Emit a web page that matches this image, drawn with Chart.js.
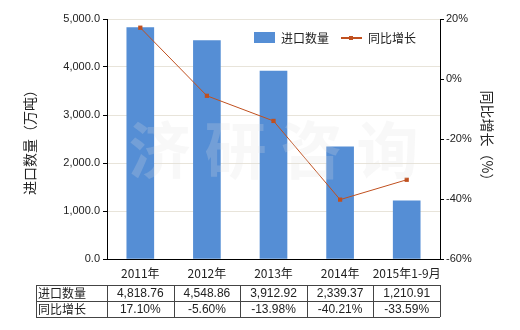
<!DOCTYPE html>
<html>
<head>
<meta charset="utf-8">
<script src="https://cdn.jsdelivr.net/npm/chart.js@4.4.0/dist/chart.umd.min.js"></script>
<style>
  html, body { margin: 0; padding: 0; background: #fff; }
  #wrap { width: 520px; height: 330px; position: relative; }
</style>
</head>
<body>
<div id="wrap"><canvas id="chart" width="520" height="330"></canvas></div>
<script>
const categories = ["2011年", "2012年", "2013年", "2014年", "2015年1-9月"];
const importQty = [4818.76, 4548.86, 3912.92, 2339.37, 1210.91];
const growth = [17.10, -5.60, -13.98, -40.21, -33.59];
const qtyLabels = ["4,818.76", "4,548.86", "3,912.92", "2,339.37", "1,210.91"];
const growthLabels = ["17.10%", "-5.60%", "-13.98%", "-40.21%", "-33.59%"];

const barColor = "#558ed5";
const lineColor = "#c0501f";
const cnFont = "'Noto Sans CJK SC', sans-serif";
const numFont = "'Liberation Sans', Arial, sans-serif";

// watermark, legend and the data table under the axis
const extras = {
  id: "extras",
  afterDatasetsDraw(chart) {
    const { ctx, chartArea } = chart;
    ctx.save();
    ctx.font = "bold 62px " + cnFont;
    ctx.fillStyle = "rgba(225,225,225,0.22)";
    ctx.textAlign = "center";
    ctx.textBaseline = "middle";
    ctx.fillText("济 研 咨 询", (chartArea.left + chartArea.right) / 2, 150);
    ctx.restore();
  },
  afterDraw(chart) {
    const { ctx } = chart;
    const x = chart.scales.x;
    ctx.save();

    // legend
    ctx.fillStyle = barColor;
    ctx.fillRect(254, 32, 21, 11);
    ctx.font = "12px " + cnFont;
    ctx.fillStyle = "#222";
    ctx.textBaseline = "middle";
    ctx.textAlign = "left";
    ctx.fillText("进口数量", 281, 38);
    ctx.strokeStyle = lineColor;
    ctx.lineWidth = 2;
    ctx.beginPath();
    ctx.moveTo(341, 38);
    ctx.lineTo(362, 38);
    ctx.stroke();
    ctx.fillStyle = lineColor;
    ctx.fillRect(349, 36, 4, 4);
    ctx.fillStyle = "#222";
    ctx.fillText("同比增长", 368, 38);

    // table
    const step = x.getPixelForValue(1) - x.getPixelForValue(0);
    const tLeft = 36, tTop = 285, rowH = 16;
    const colLeft = x.getPixelForValue(0) - step / 2;
    const tRight = x.getPixelForValue(categories.length - 1) + step / 2;
    ctx.strokeStyle = "#444";
    ctx.lineWidth = 1;
    ctx.beginPath();
    for (let r = 0; r <= 2; r++) {
      const y = Math.round(tTop + r * rowH) + 0.5;
      ctx.moveTo(tLeft, y);
      ctx.lineTo(tRight, y);
    }
    const vx = [tLeft, colLeft];
    for (let i = 0; i < categories.length; i++) vx.push(colLeft + step * (i + 1));
    vx.forEach(v => {
      const px = Math.round(v) + 0.5;
      ctx.moveTo(px, tTop);
      ctx.lineTo(px, tTop + 2 * rowH);
    });
    ctx.stroke();

    ctx.fillStyle = "#222";
    ctx.font = "12px " + cnFont;
    ctx.textAlign = "left";
    ctx.fillText("进口数量", tLeft + 2, tTop + rowH / 2);
    ctx.fillText("同比增长", tLeft + 2, tTop + rowH * 1.5);
    ctx.font = "12px " + numFont;
    ctx.textAlign = "center";
    for (let i = 0; i < categories.length; i++) {
      const cx = x.getPixelForValue(i);
      ctx.fillText(qtyLabels[i], cx, tTop + rowH / 2 + 1);
      ctx.fillText(growthLabels[i], cx, tTop + rowH * 1.5 + 1);
    }
    ctx.restore();
  }
};

new Chart(document.getElementById("chart"), {
  data: {
    labels: categories,
    datasets: [
      {
        type: "line",
        label: "同比增长",
        data: growth,
        yAxisID: "y1",
        borderColor: lineColor,
        backgroundColor: lineColor,
        borderWidth: 1,
        pointStyle: "rect",
        pointRadius: 3,
        pointBorderWidth: 0,
        tension: 0,
        order: 0,
      },
      {
        type: "bar",
        label: "进口数量",
        data: importQty,
        yAxisID: "y",
        backgroundColor: barColor,
        barThickness: 27,
        order: 1,
      },
    ],
  },
  options: {
    responsive: false,
    animation: false,
    layout: { padding: { top: 19, left: 0, right: 0, bottom: 0 } },
    plugins: {
      legend: { display: false },
      tooltip: { enabled: false },
    },
    scales: {
      x: {
        grid: { display: false, drawOnChartArea: false, drawTicks: true, tickLength: 5, tickColor: "#000", offset: false },
        border: { display: true, color: "#000", width: 1 },
        ticks: { color: "#222", font: { family: cnFont, size: 12 }, padding: 2, maxRotation: 0, autoSkip: false },
        afterFit(s) { s.height = 71; },
      },
      y: {
        position: "left",
        min: 0,
        max: 5000,
        ticks: {
          stepSize: 1000,
          color: "#222",
          font: { family: numFont, size: 11 },
          padding: 3,
          callback: v => v.toLocaleString("en-US", { minimumFractionDigits: 1, maximumFractionDigits: 1 }),
        },
        grid: { color: "#e8e4da", tickColor: "#000", tickLength: 4 },
        border: { display: true, color: "#000" },
        title: { display: true, text: "进口数量（万吨）", color: "#222", font: { family: cnFont, size: 14 }, padding: { top: 21, bottom: 0 } },
        afterFit(s) { s.width = 107; },
      },
      y1: {
        position: "right",
        min: -60,
        max: 20,
        ticks: {
          stepSize: 20,
          color: "#222",
          font: { family: numFont, size: 11 },
          padding: 2,
          callback: v => v + "%",
        },
        grid: { drawOnChartArea: false, tickColor: "#000", tickLength: 4 },
        border: { display: true, color: "#000" },
        title: { display: true, text: "同比增长（%）", color: "#222", font: { family: cnFont, size: 14 }, padding: { top: 24, bottom: 0 } },
        afterFit(s) { s.width = 80; },
      },
    },
  },
  plugins: [extras],
});
</script>
</body>
</html>
